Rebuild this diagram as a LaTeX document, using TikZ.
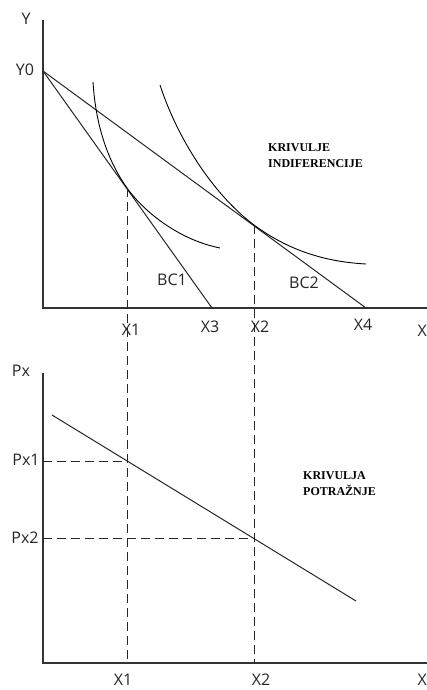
\documentclass[tikz,border=0pt]{standalone}
\usepackage{fontspec}
\setmainfont{Open Sans}
\newfontfamily\serifb{Liberation Serif}
\begin{document}
\begin{tikzpicture}[x=1pt,y=-1pt,
  axis/.style={line width=1.4pt,draw=black!80},
  bline/.style={line width=1pt,draw=black!85},
  curve/.style={line width=0.9pt,draw=black},
  dline/.style={line width=0.9pt,draw=black!85,dash pattern=on 9pt off 5pt},
  lab/.style={font=\fontsize{16}{16}\selectfont,text=black!85,inner sep=0pt},
  note/.style={font=\serifb\bfseries\fontsize{12}{16}\selectfont,align=left,inner sep=0pt,anchor=north west}]
\useasboundingbox (0,0) rectangle (427,690);
% top panel coordinates
\coordinate (Ytop) at (43,20);
\coordinate (O1) at (43,308);
\coordinate (Xend1) at (427,308);
\coordinate (Y0) at (43,71);
\coordinate (X3) at (212,308);
\coordinate (X4) at (366,308);
\coordinate (T1) at (127,188);
\coordinate (T2) at (254,225);
% bottom panel
\coordinate (Ptop) at (43,373);
\coordinate (O2) at (43,663);
\coordinate (Xend2) at (427,663);
\coordinate (D1) at (52,415);
\coordinate (D2) at (356,601);
\coordinate (P1) at (127,461);
\coordinate (P2) at (254,538);
\coordinate (B1) at (127,663);
\coordinate (B2) at (254,663);
\coordinate (A1) at (43,461);
\coordinate (A2) at (43,538);
% axes
\draw[axis] (Ytop) -- (O1) -- (Xend1);
\draw[axis] (Ptop) -- (O2) -- (Xend2);
% budget lines
\draw[bline] (Y0) -- (X3);
\draw[bline] (Y0) -- (X4);
% indifference curves
\draw[curve] (93,82) .. controls (96,130) and (110,164) .. (T1)
  .. controls (145,213) and (180,240) .. (220,248);
\draw[curve] (160,85) .. controls (178,140) and (214,195) .. (T2)
  .. controls (292,253) and (330,262) .. (366,264);
% demand
\draw[bline] (D1) -- (D2);
% dashed
\draw[dline] (T1) -- (B1);
\draw[dline] (T2) -- (B2);
\draw[dline] (A1) -- (P1);
\draw[dline] (A2) -- (P2);
% labels top
\node[lab] (lY) at (26,19) {Y};
\node[lab] (lY0) at (25,70) {Y0};
\node[lab] (lX1a) at (131,330) {X1};
\node[lab] (lX3) at (210,327) {X3};
\node[lab] (lX2a) at (260,327) {X2};
\node[lab] (lX4) at (363,325) {X4};
\node[lab,anchor=east] (lXa) at (427,331) {X};
\node[lab] (lBC1) at (172,280) {BC1};
\node[lab] (lBC2) at (304,283) {BC2};
\node[note] (nIC) at (268,143) {KRIVULJE\\INDIFERENCIJE};
% labels bottom
\node[lab] (lPx) at (21,371) {Px};
\node[lab] (lPx1) at (26,460) {Px1};
\node[lab] (lPx2) at (25,538) {Px2};
\node[lab] (lX1b) at (123,680) {X1};
\node[lab] (lX2b) at (261,680) {X2};
\node[lab,anchor=east] (lXb) at (427,680) {X};
\node[note] (nD) at (303,471) {KRIVULJA\\POTRAŽNJE};
\end{tikzpicture}
\end{document}
